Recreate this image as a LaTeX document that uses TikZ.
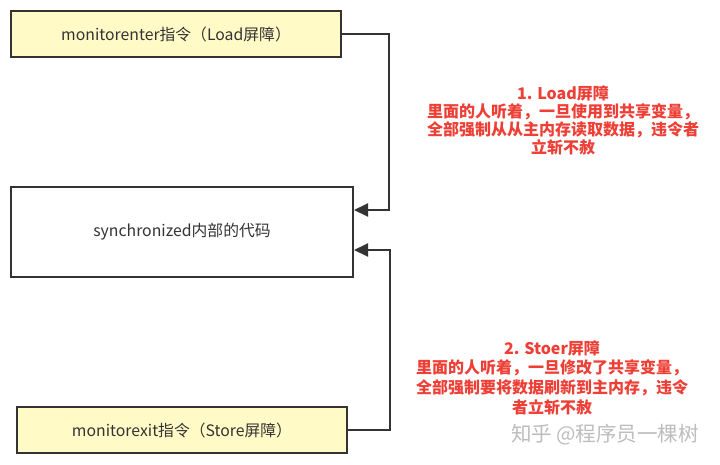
\documentclass[tikz,border=0pt]{standalone}
\usepackage{fontspec}
\setmainfont{Noto Sans CJK SC}
\newfontfamily\cjk{Noto Sans CJK SC}
\usetikzlibrary{arrows.meta}
\definecolor{boxyellow}{HTML}{FFFAC6}
\definecolor{boxline}{HTML}{333333}
\definecolor{txtred}{HTML}{EE3F36}
\definecolor{wm}{HTML}{BDBDBD}
\tikzset{
  box/.style={draw=boxline, line width=2pt, inner sep=0pt, text=boxline, font=\cjk\fontsize{15.8}{18}\selectfont},
  ybox/.style={box, fill=boxyellow},
  conn/.style={draw=boxline, line width=2pt, -{Triangle[length=14pt,width=13pt]}},
  note/.style={text=txtred, align=center, inner sep=0pt},
}
\begin{document}
\begin{tikzpicture}[x=1pt,y=-1pt]
\useasboundingbox[fill=white] (0,0) rectangle (720,464);
\node[ybox, minimum width=330pt, minimum height=46pt] (top) at (176,34) {monitorenter指令（Load屏障）};
\node[box, fill=white, minimum width=342pt, minimum height=90pt] (mid) at (182,232) {synchronized内部的代码};
\node[ybox, minimum width=330pt, minimum height=46pt] (bot) at (182,430) {monitorexit指令（Store屏障）};
\coordinate (c1) at (389,210);
\coordinate (c2) at (390,250);
\draw[conn] (top.east) -| (c1) -- (mid.east |- c1);
\draw[conn] (bot.east) -| (c2) -- (mid.east |- c2);
\node[note, font=\cjk\bfseries\fontsize{16}{18}\selectfont] (n1) at (563,120) {1. Load屏障\\里面的人听着，一旦使用到共享变量，\\全部强制从从主内存读取数据，违令者\\立斩不赦};
\node[note, font=\cjk\bfseries\fontsize{16}{19.6}\selectfont] (n2) at (552,377.5) {2. Stoer屏障\\里面的人听着，一旦修改了共享变量，\\全部强制要将数据刷新到主内存，违令\\者立斩不赦};
\node[text=wm, inner sep=0pt, font=\cjk\fontsize{20.5}{22}\selectfont] (wm) at (605,435) {知乎 @程序员一棵树};
\end{tikzpicture}
\end{document}
